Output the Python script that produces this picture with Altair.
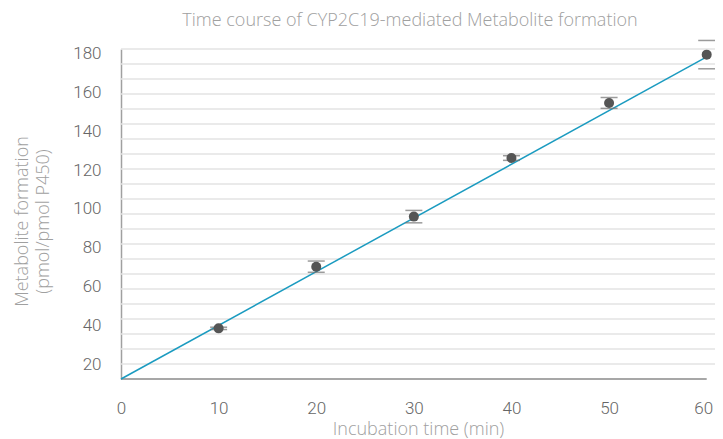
import altair as alt
import pandas as pd

# data
time_min = [10, 20, 30, 40, 50, 60]
metabolite = [38.4, 70.2, 96.0, 126.2, 154.6, 179.5]
error = [0.6, 2.9, 3.2, 1.2, 2.8, 7.3]

fit_x = [0, 60]
fit_y = [12.3, 178.3]

y_ticks = [20, 40, 60, 80, 100, 120, 140, 160, 180]
x_ticks = [0, 10, 20, 30, 40, 50, 60]

Y_DOMAIN = [12.3, 182.4]
X_DOMAIN = [0, 60.85]
N_GRID = 22

df = pd.DataFrame({"t": time_min, "m": metabolite, "e": error})
df["lo"] = df["m"] - df["e"]
df["hi"] = df["m"] + df["e"]
fit = pd.DataFrame({"t": fit_x, "m": fit_y})
step = (Y_DOMAIN[1] - Y_DOMAIN[0]) / N_GRID
grid = pd.DataFrame({"g": [Y_DOMAIN[0] + k * step for k in range(1, N_GRID + 1)]})

FONT = "Roboto"
TFONT = "Open Sans"
xs = alt.Scale(domain=X_DOMAIN, nice=False, zero=False)
ys = alt.Scale(domain=Y_DOMAIN, nice=False, zero=False)

x_axis = alt.Axis(values=x_ticks, grid=False, domain=False, ticks=False, labelFlush=False,
                  labelAlign={"condition": {"test": "datum.value == 60", "value": "right"}, "value": "center"},
                  labelOffset={"condition": {"test": "datum.value == 60", "value": 6}, "value": 0},
                  labelFont=FONT, labelFontSize=17, labelFontWeight=300, labelColor="#666666",
                  labelPadding=21, title="Incubation time (min)", titleFont=TFONT,
                  titleFontSize=18, titleFontWeight=300, titleColor="#a0a0a0", titlePadding=4)
y_axis = alt.Axis(values=y_ticks, grid=False, domain=True, domainColor="#a0a0a0", domainWidth=1.5,
                  ticks=False, labelFont=FONT, labelFontSize=17, labelFontWeight=300,
                  labelColor="#666666", labelPadding=20,
                  title=["Metabolite formation", "(pmol/pmol P450)"], titleFont=TFONT,
                  titleFontSize=18, titleFontWeight=300, titleColor="#a0a0a0", titlePadding=20,
                  titleLineHeight=21, titleY=172)

gridlines = alt.Chart(grid).mark_rule(color="#e3e3e3", strokeWidth=1.5).encode(
    y=alt.Y("g:Q", scale=ys, axis=y_axis)
)

xaxis_line = alt.Chart(pd.DataFrame({"a": [0], "b": [60], "y": [Y_DOMAIN[0]]})).mark_rule(
    color="#8a8a8a", strokeWidth=1.5
).encode(
    x=alt.X("a:Q", scale=xs, axis=x_axis), x2="b:Q", y=alt.Y("y:Q", scale=ys)
)

line = alt.Chart(fit).mark_line(color="#1b9bc0", strokeWidth=1.5).encode(
    x=alt.X("t:Q", scale=xs), y=alt.Y("m:Q", scale=ys)
)

caps_lo = alt.Chart(df).mark_tick(orient="horizontal", size=17, thickness=1.5, color="#707070").encode(
    x=alt.X("t:Q", scale=xs), y=alt.Y("lo:Q", scale=ys)
)
caps_hi = alt.Chart(df).mark_tick(orient="horizontal", size=17, thickness=1.5, color="#707070").encode(
    x=alt.X("t:Q", scale=xs), y=alt.Y("hi:Q", scale=ys)
)

dots = alt.Chart(df).mark_circle(size=100, color="#555555", opacity=1).encode(
    x=alt.X("t:Q", scale=xs), y=alt.Y("m:Q", scale=ys)
)

chart = alt.layer(gridlines, xaxis_line, line, caps_lo, caps_hi, dots).properties(
    width=594, height=330,
    autosize=alt.AutoSizeParams(type="none"),
    padding={"left": 113, "top": 41, "right": 0, "bottom": 60},
    title=alt.TitleParams("Time course of CYP2C19-mediated Metabolite formation",
                          font=TFONT, fontSize=18, fontWeight=300, color="#a0a0a0",
                          anchor="middle", dx=-8, offset=10),
).configure_view(stroke=None)

chart.save("out.html", embed_options={"renderer": "svg", "actions": False})
